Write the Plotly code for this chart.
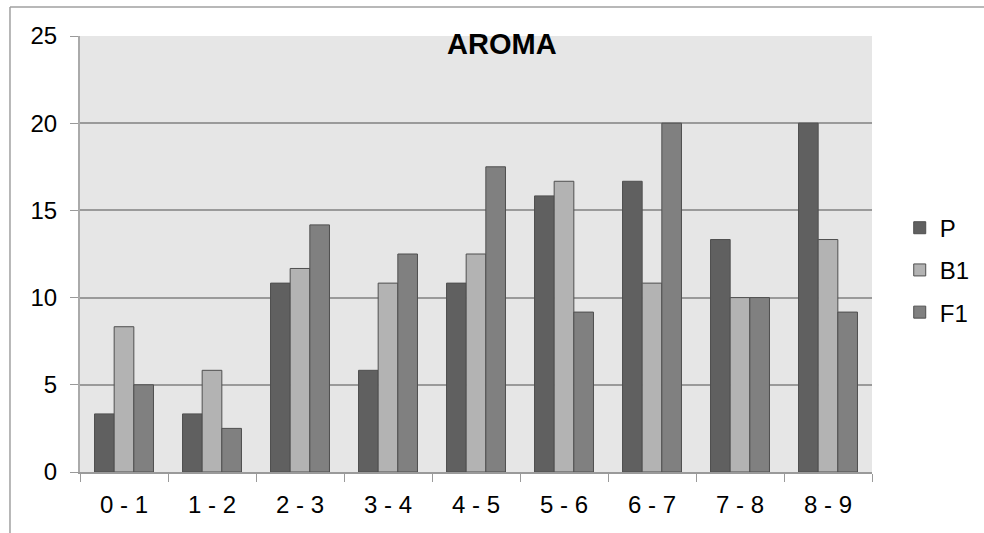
import plotly.graph_objects as go

categories = ["0 - 1", "1 - 2", "2 - 3", "3 - 4", "4 - 5", "5 - 6", "6 - 7", "7 - 8", "8 - 9"]
p_values = [3.33, 3.33, 10.83, 5.83, 10.83, 15.83, 16.67, 13.33, 20.0]
b1_values = [8.33, 5.83, 11.67, 10.83, 12.5, 16.67, 10.83, 10.0, 13.33]
f1_values = [5.0, 2.5, 14.17, 12.5, 17.5, 9.17, 20.0, 10.0, 9.17]
y_ticks = [0, 5, 10, 15, 20, 25]

series = [("P", p_values, "#606060"), ("B1", b1_values, "#b3b3b3"), ("F1", f1_values, "#808080")]

fig = go.Figure()
for i, (name, vals, col) in enumerate(series):
    fig.add_trace(go.Bar(
        x=categories, y=vals, name=name, legendgroup=name,
        marker=dict(color=col, line=dict(color="#4f4f4f", width=1)),
    ))

fig.update_layout(
    width=984, height=533,
    margin=dict(l=80, r=112, t=36, b=61, autoexpand=False),
    paper_bgcolor="white", plot_bgcolor="#e6e6e6",
    barmode="group", bargap=0.33, bargroupgap=0,
    font=dict(family="Liberation Sans, Arial", size=24, color="black"),
    title=dict(text="<b>AROMA</b>", x=0.51, xanchor="center", y=0.917, yanchor="middle",
               font=dict(size=29, family="Liberation Sans, Arial", color="black")),
    legend=dict(x=1.035, xanchor="left", y=0.463, yanchor="middle", traceorder="grouped",
                tracegroupgap=8, font=dict(size=24), itemwidth=30, bgcolor="rgba(0,0,0,0)"),
    showlegend=True,
)
fig.update_xaxes(
    showline=True, linecolor="#9a9a9a", linewidth=1.5,
    ticks="outside", tickson="boundaries", ticklen=8, tickcolor="#9a9a9a",
    ticklabelstandoff=10,
    showgrid=False, mirror=False,
)
fig.update_yaxes(
    range=[0, 25], tickvals=y_ticks, showline=True, linecolor="#aaaaaa", linewidth=2,
    ticks="outside", ticklen=8, tickcolor="#9a9a9a", ticklabelstandoff=8,
    showgrid=True, gridcolor="#9a9a9a", gridwidth=1.5, zeroline=False,
)
# chart outer border (top and left, clipped by window)
fig.add_shape(type="line", xref="paper", yref="paper", x0=-0.0884, x1=1.2, y0=1.0665, y1=1.0665,
              line=dict(color="#a0a0a0", width=1.5))
fig.add_shape(type="line", xref="paper", yref="paper", x0=-0.0884, x1=-0.0884, y0=1.0665, y1=-0.2,
              line=dict(color="#a0a0a0", width=1.5))

fig.write_html("out.html")
